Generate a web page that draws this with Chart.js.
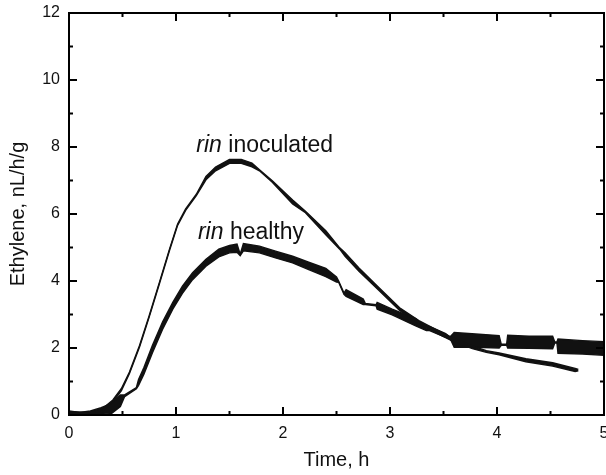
<!DOCTYPE html>
<html>
<head>
<meta charset="utf-8">
<script src="https://cdn.jsdelivr.net/npm/chart.js@4.4.1/dist/chart.umd.min.js"></script>
<style>
  html, body { margin: 0; padding: 0; background: #fff; }
  #wrap { width: 606px; height: 475px; }
</style>
</head>
<body>
<div id="wrap"><canvas id="chart_ethylene" width="606" height="475"></canvas></div>
<script>
// rin inoculated: time (h), lower and upper edge of the trace (nL/h/g)
var inocTime = [0, 0.15, 0.25, 0.32, 0.41, 0.49, 0.565, 0.66, 0.75, 0.845, 0.94, 1.015, 1.09, 1.19, 1.28, 1.37, 1.5, 1.61, 1.71, 1.78, 1.9, 2.09, 2.21, 2.4, 2.53, 2.58, 2.71, 2.9, 3.09, 3.27, 3.4, 3.58, 3.77, 3.9, 4.02, 4.27, 4.52, 4.73, 4.76];
var inocLow = [0, 0, 0.04, 0.12, 0.39, 0.73, 1.24, 2.04, 2.93, 3.92, 4.92, 5.66, 6.11, 6.55, 7.02, 7.29, 7.51, 7.51, 7.41, 7.29, 6.95, 6.30, 6.04, 5.38, 4.95, 4.74, 4.29, 3.71, 3.12, 2.72, 2.50, 2.21, 1.98, 1.87, 1.80, 1.59, 1.46, 1.30, 1.32];
var inocHigh = [0.10, 0.08, 0.13, 0.21, 0.45, 0.79, 1.28, 2.08, 2.97, 3.96, 4.96, 5.70, 6.15, 6.59, 7.12, 7.40, 7.63, 7.63, 7.52, 7.32, 6.99, 6.42, 6.08, 5.50, 4.99, 4.84, 4.39, 3.79, 3.20, 2.82, 2.60, 2.31, 2.06, 1.92, 1.85, 1.68, 1.56, 1.39, 1.36];

// rin healthy
var healthyTime = [0, 0.1, 0.2, 0.3, 0.4, 0.48, 0.52, 0.63, 0.65, 0.7, 0.78, 0.875, 0.97, 1.06, 1.155, 1.28, 1.4, 1.5, 1.57, 1.6, 1.63, 1.78, 1.93, 2.09, 2.24, 2.4, 2.5, 2.52, 2.57, 2.59, 2.75, 2.77, 2.87, 2.88, 3.02, 3.24, 3.34, 3.37, 3.52, 3.56, 3.6, 3.8, 4.02, 4.04, 4.09, 4.1, 4.3, 4.52, 4.54, 4.56, 4.57, 4.8, 5.0];
var healthyLow = [0, 0, 0, 0.02, 0.05, 0.25, 0.55, 0.78, 0.88, 1.22, 1.86, 2.56, 3.16, 3.63, 4.04, 4.44, 4.72, 4.84, 4.86, 4.76, 4.90, 4.84, 4.69, 4.54, 4.34, 4.13, 3.97, 3.96, 3.60, 3.54, 3.30, 3.30, 3.26, 3.16, 2.99, 2.66, 2.52, 2.52, 2.32, 2.30, 2.02, 2.02, 2.00, 2.08, 2.08, 2.00, 1.99, 1.98, 2.15, 2.15, 1.84, 1.82, 1.78];
var healthyHigh = [0.12, 0.08, 0.12, 0.22, 0.35, 0.60, 0.60, 0.82, 1.06, 1.42, 2.08, 2.78, 3.36, 3.85, 4.25, 4.65, 4.95, 5.06, 5.10, 4.80, 5.12, 5.04, 4.89, 4.74, 4.56, 4.38, 4.12, 4.00, 3.64, 3.74, 3.46, 3.33, 3.29, 3.36, 3.16, 2.88, 2.56, 2.64, 2.43, 2.33, 2.46, 2.42, 2.37, 2.11, 2.11, 2.38, 2.35, 2.35, 2.18, 2.18, 2.27, 2.22, 2.19];

var xTicks = [0, 1, 2, 3, 4, 5];
var yTicks = [0, 2, 4, 6, 8, 10, 12];

function pts(t, v) {
    return t.map(function(x, i) { return {x: x, y: v[i]}; });
}

var FONT = "Arial, 'Liberation Sans', sans-serif";

function trace(points, fill) {
    return {
        data: points,
        borderColor: '#111',
        backgroundColor: '#111',
        borderWidth: 1.4,
        pointRadius: 0,
        tension: 0,
        fill: fill
    };
}

var frame = {
    id: 'frame',
    afterDatasetsDraw: function(chart) {
        var ctx = chart.ctx, a = chart.chartArea, x = chart.scales.x, y = chart.scales.y;
        ctx.save();
        ctx.strokeStyle = '#000';
        ctx.lineWidth = 2;
        ctx.strokeRect(a.left, a.top, a.right - a.left, a.bottom - a.top);
        ctx.beginPath();
        xTicks.forEach(function(v, i) {
            var p = x.getPixelForValue(v);
            ctx.moveTo(p, a.bottom); ctx.lineTo(p, a.bottom - 8);
            ctx.moveTo(p, a.top); ctx.lineTo(p, a.top + 8);
            if (i < xTicks.length - 1) {
                var m = x.getPixelForValue((v + xTicks[i + 1]) / 2);
                ctx.moveTo(m, a.bottom); ctx.lineTo(m, a.bottom - 4);
                ctx.moveTo(m, a.top); ctx.lineTo(m, a.top + 4);
            }
        });
        yTicks.forEach(function(v, i) {
            var p = y.getPixelForValue(v);
            ctx.moveTo(a.left, p); ctx.lineTo(a.left + 8, p);
            ctx.moveTo(a.right, p); ctx.lineTo(a.right - 8, p);
            if (i < yTicks.length - 1) {
                var m = y.getPixelForValue((v + yTicks[i + 1]) / 2);
                ctx.moveTo(a.left, m); ctx.lineTo(a.left + 4, m);
                ctx.moveTo(a.right, m); ctx.lineTo(a.right - 4, m);
            }
        });
        ctx.stroke();

        // curve labels
        ctx.fillStyle = '#111';
        ctx.textBaseline = 'alphabetic';
        ctx.textAlign = 'left';
        function label(tx, ty, rest) {
            var px = x.getPixelForValue(tx), py = y.getPixelForValue(ty);
            ctx.font = 'italic 23px ' + FONT;
            ctx.fillText('rin', px, py);
            var w = ctx.measureText('rin ').width;
            ctx.font = '23px ' + FONT;
            ctx.fillText(rest, px + w, py);
        }
        label(1.19, 7.86, 'inoculated');
        label(1.205, 5.24, 'healthy');
        ctx.restore();
    }
};

var chart_ethylene = new Chart(document.getElementById('chart_ethylene'), {
    type: 'line',
    data: {
        datasets: [
            trace(pts(inocTime, inocLow), false),
            trace(pts(inocTime, inocHigh), '-1'),
            trace(pts(healthyTime, healthyLow), false),
            trace(pts(healthyTime, healthyHigh), '-1')
        ]
    },
    options: {
        animation: false,
        responsive: false,
        layout: { padding: { top: 13, right: 2, left: 0, bottom: 0 } },
        plugins: {
            legend: { display: false },
            tooltip: { enabled: false }
        },
        scales: {
            x: {
                type: 'linear',
                min: 0,
                max: 5,
                afterBuildTicks: function(scale) {
                    scale.ticks = xTicks.map(function(v) { return {value: v}; });
                },
                afterFit: function(scale) {
                    scale.height = 60;
                    scale.paddingLeft = 0;
                    scale.paddingRight = 0;
                },
                grid: { display: false, drawTicks: false },
                border: { display: false },
                ticks: {
                    autoSkip: false,
                    maxRotation: 0,
                    padding: 9,
                    color: '#111',
                    font: { family: FONT, size: 16 }
                },
                title: {
                    display: true,
                    text: 'Time, h',
                    color: '#111',
                    padding: { top: 0, bottom: 3 },
                    font: { family: FONT, size: 20 }
                }
            },
            y: {
                type: 'linear',
                min: 0,
                max: 12,
                afterBuildTicks: function(scale) {
                    scale.ticks = yTicks.map(function(v) { return {value: v}; });
                },
                afterFit: function(scale) {
                    scale.width = 69;
                    scale.paddingTop = 0;
                    scale.paddingBottom = 0;
                },
                grid: { display: false, drawTicks: false },
                border: { display: false },
                ticks: {
                    padding: 9,
                    color: '#111',
                    font: { family: FONT, size: 16 }
                },
                title: {
                    display: true,
                    text: 'Ethylene, nL/h/g',
                    color: '#111',
                    padding: { top: 6, bottom: 0 },
                    font: { family: FONT, size: 20 }
                }
            }
        }
    },
    plugins: [frame, {
        id: 'whiteBg',
        beforeDraw: function(chart) {
            var ctx = chart.canvas.getContext('2d');
            ctx.save();
            ctx.globalCompositeOperation = 'destination-over';
            ctx.fillStyle = 'white';
            ctx.fillRect(0, 0, chart.canvas.width, chart.canvas.height);
            ctx.restore();
        }
    }]
});
</script>
</body>
</html>
